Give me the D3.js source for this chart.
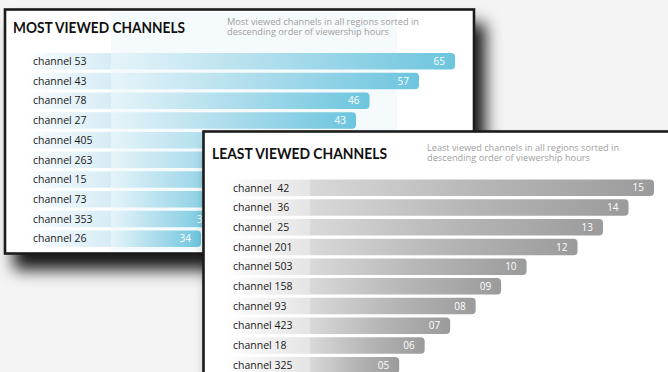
<!DOCTYPE html>
<html><head><meta charset="utf-8">
<script src="https://cdn.jsdelivr.net/npm/d3@7"></script>
<style>
html,body{margin:0;padding:0;background:#f4f4f4;}
svg{display:block;}
text{font-family:"Open Sans",sans-serif;}
</style></head>
<body>
<svg id="c" width="668" height="372"></svg>
<script>
// ---- data ----
const mostChannels = ["channel 53","channel 43","channel 78","channel 27","channel 405","channel 263","channel 15","channel 73","channel 353","channel 26"];
const mostValues = [65,57,46,43,41,39,37,36,35,34];
const leastChannels = ["channel  42","channel  36","channel  25","channel 201","channel 503","channel 158","channel 93","channel 423","channel 18","channel 325"];
const leastValues = [15,14,13,12,10,9,8,7,6,5];
const mostTitle = "MOST VIEWED CHANNELS";
const mostSub = ["Most viewed channels in all regions sorted in","descending order of viewership hours"];
const leastTitle = "LEAST VIEWED CHANNELS";
const leastSub = ["Least viewed channels in all regions sorted in","descending order of viewership hours"];

const svg = d3.select("#c");
const defs = svg.append("defs");

// shadow
const f = defs.append("filter").attr("id","sh").attr("x","-10%").attr("y","-10%").attr("width","130%").attr("height","150%");
f.append("feDropShadow").attr("dx",10).attr("dy",15).attr("stdDeviation",8).attr("flood-color","#000").attr("flood-opacity",0.9);

function grad(id, stops){
  const g = defs.append("linearGradient").attr("id",id).attr("x1",0).attr("x2",1).attr("y1",0).attr("y2",0);
  stops.forEach(s=>g.append("stop").attr("offset",s[0]).attr("stop-color",s[1]));
}
grad("blueBar",[[0,"#e6f4f9"],[0.45,"#b0deed"],[1,"#6cc5de"]]);
grad("blueBand",[[0,"#ffffff"],[0.3,"#eef7fb"],[1,"#d6ecf5"]]);
grad("grayBar",[[0,"#d9d9d9"],[0.5,"#b6b6b6"],[1,"#9b9b9b"]]);
grad("grayBand",[[0,"#ffffff"],[0.3,"#f6f6f6"],[1,"#e4e4e4"]]);

function barPath(x, y, w, h, r){
  r = Math.min(r, w/2, h/2);
  return `M${x},${y}H${x+w-r}Q${x+w},${y} ${x+w},${y+r}V${y+h-r}Q${x+w},${y+h} ${x+w-r},${y+h}H${x}Z`;
}

function fit(sel, w){ sel.attr("textLength", w).attr("lengthAdjust","spacingAndGlyphs"); }

function panel(cfg){
  const g = svg.append("g");
  g.append("rect").attr("x",cfg.px).attr("y",cfg.py).attr("width",cfg.pw).attr("height",cfg.ph)
    .attr("fill","#fff").attr("stroke","#1c1c1c").attr("stroke-width",2.6).attr("filter","url(#sh)");
  if (cfg.glass) g.append("rect").attr("x",cfg.x0).attr("y",cfg.py+3).attr("width",cfg.glass).attr("height",cfg.ph-6).attr("fill",cfg.glassColor);
  g.append("text").attr("x",cfg.tx).attr("y",cfg.ty).attr("font-size",16).attr("font-weight",700)
    .style("font-family","Lato, sans-serif").attr("fill","#111")
    .text(cfg.title).call(fit, cfg.tw);
  cfg.sub.forEach((s,i)=>{
    g.append("text").attr("x",cfg.sx).attr("y",cfg.sy+i*10.5).attr("font-size",8.8).attr("fill","#a0a0a0")
      .text(s).call(fit, cfg.sw[i]);
  });
  const y = d3.scaleBand().domain(cfg.cats).range(cfg.yr).paddingInner(0.16).paddingOuter(0.08);
  const rows = g.selectAll("g.row").data(cfg.cats.map((c,i)=>({c, v:cfg.vals[i]}))).join("g").attr("class","row");
  rows.append("rect").attr("x",cfg.bandX).attr("y",d=>y(d.c)).attr("width",cfg.x0-cfg.bandX).attr("height",y.bandwidth())
    .attr("fill",`url(#${cfg.band})`);
  rows.append("path").attr("d",d=>barPath(cfg.x0, y(d.c), cfg.x(d.v), y.bandwidth(), 4)).attr("fill",`url(#${cfg.bar})`);
  rows.append("text").attr("x",cfg.lx).attr("y",d=>y(d.c)+y.bandwidth()/2+3.7).attr("font-size",10.5).attr("fill","#1a1a1a")
    .style("white-space","pre").text(d=>d.c);
  // value labels; skip those that sit entirely under a covering panel
  rows.filter(d=>!(cfg.cover && cfg.x0+cfg.x(d.v)-22 > cfg.cover.x && y(d.c) > cfg.cover.y))
    .append("text").attr("x",d=>cfg.x0+cfg.x(d.v)-10).attr("y",d=>y(d.c)+y.bandwidth()/2+3.6).attr("text-anchor","end")
    .attr("font-size",10).attr("fill","#fff").text(d=>cfg.fmt(d.v));
}

// Most viewed panel
panel({
  px:5, py:9.5, pw:469, ph:244,
  title:mostTitle, tx:13, ty:32.5, tw:172,
  sub:mostSub, sx:227, sy:24.5, sw:[192,162],
  cats:mostChannels, vals:mostValues, yr:[51.5,248.5],
  x0:111, bandX:28, lx:33,
  x:d3.scaleLinear().domain([34,43,65]).range([90,245,344]),
  bar:"blueBar", band:"blueBand", fmt:d3.format("d"),
  glass:286, glassColor:"#f5fafc",
  cover:{x:203, y:131}
});

// Least viewed panel
panel({
  px:203.5, py:131.5, pw:490, ph:260,
  title:leastTitle, tx:212, ty:158.5, tw:175,
  sub:leastSub, sx:427, sy:150.5, sw:[192,163],
  cats:leastChannels, vals:leastValues, yr:[178,375],
  x0:310, bandX:226, lx:233,
  x:d3.scaleLinear().domain([1.5,15]).range([0,344]),
  bar:"grayBar", band:"grayBand", fmt:d3.format("02d"),
  glass:0
});
</script>
</body></html>
